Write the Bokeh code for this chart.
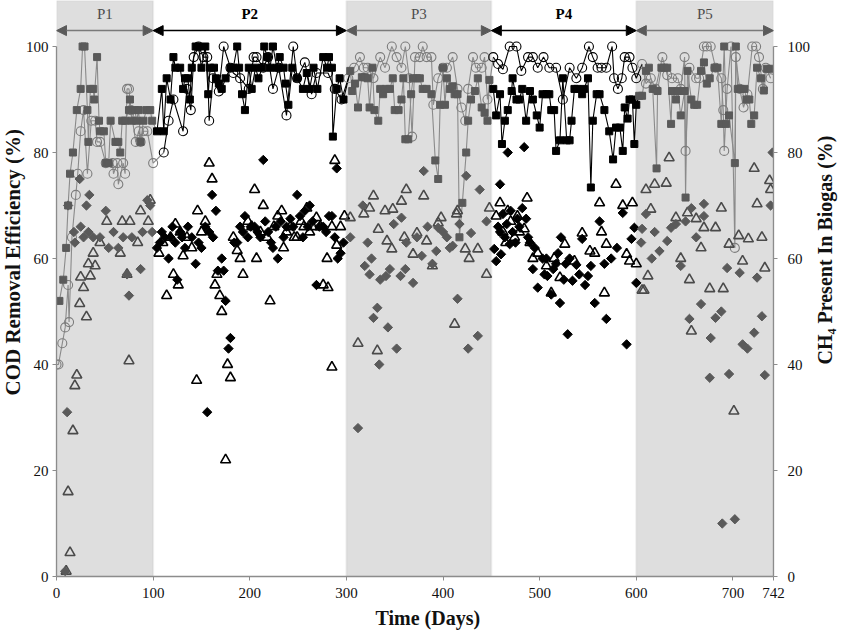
import math
from bokeh.plotting import figure
from bokeh.models import (Range1d, LinearAxis, FixedTicker, BoxAnnotation, Arrow,
                          NormalHead, Label, Title)
from bokeh.embed import file_html
from bokeh.resources import INLINE

# ---------------- data ----------------
period_names = ["P1", "P2", "P3", "P4", "P5"]
period_bounds = [0, 100, 300, 450, 600, 742]
x_ticks = [0, 100, 200, 300, 400, 500, 600, 700, 742]
y_ticks = [0, 20, 40, 60, 80, 100]

# COD removal, filled squares
sq_day = [3, 7, 10, 12, 14, 17, 21, 25, 27, 29, 32, 33, 35, 38, 39, 42, 44, 45, 49, 51, 54, 56, 61, 64, 66, 68, 71, 75, 76, 78, 81, 83, 85, 87, 90, 93, 97, 99,
          104, 109, 111, 114, 118, 121, 123, 128, 131, 133, 136, 138, 140, 144, 147, 150, 154, 157, 159, 163, 165, 168, 171, 175, 180, 183, 187, 189, 192, 195, 199, 202, 206, 209, 213, 215, 218, 221, 224, 228, 231, 235, 237, 240, 244, 249, 255, 259, 262, 266, 270, 276, 280, 282, 285, 286, 290, 293, 297,
          304, 306, 309, 312, 316, 319, 322, 324, 327, 329, 333, 335, 338, 341, 345, 348, 350, 354, 357, 359, 361, 364, 367, 369, 373, 376, 379, 383, 388, 392, 395, 397, 400, 402, 404, 407, 410, 412, 415, 417, 420, 424, 426, 429, 433, 436, 440, 443, 446, 448,
          452, 455, 459, 461, 464, 467, 471, 472, 476, 479, 482, 486, 490, 493, 497, 500, 503, 507, 510, 512, 515, 517, 521, 524, 528, 531, 533, 536, 539, 544, 546, 550, 553, 555, 559, 562, 567, 572, 576, 579, 583, 586, 588, 591, 593, 596, 598, 600,
          603, 606, 610, 613, 617, 621, 622, 626, 629, 632, 636, 637, 641, 643, 646, 650, 651, 653, 657, 660, 663, 667, 670, 673, 676, 681, 684, 688, 691, 693, 696, 702, 703, 705, 708, 712, 714, 717, 719, 722, 725, 729, 732, 735, 739]
sq_cod = [52, 56, 62, 70, 76, 80, 88, 92, 100, 100, 88, 82, 92, 92, 90, 98, 86, 84, 84, 78, 78, 86, 82, 82, 80, 86, 86, 88, 90, 86, 88, 86, 88, 82, 86, 88, 88, 86,
          84, 92, 84, 94, 90, 98, 96, 96, 92, 94, 94, 90, 96, 100, 100, 96, 100, 91, 96, 96, 94, 93, 92, 94, 96, 96, 100, 96, 91, 88, 96, 92, 96, 94, 96, 100, 98, 96, 100, 96, 98, 96, 93, 89, 96, 94, 92, 95, 92, 96, 92, 98, 96, 98, 96, 83, 92, 94, 90,
          95.4, 91.6, 93, 88.5, 94.2, 94.2, 94, 88.5, 96, 88, 86, 92, 91, 92, 92, 94, 88, 88, 90, 94, 82.5, 82.5, 91, 94, 94, 94, 92, 92, 91, 78.5, 75, 89, 96, 89, 94, 92, 92.5, 91, 91, 64, 70.5, 80, 86, 90, 91.6, 94, 88.5, 87.5, 86, 93.7,
          92, 87, 91, 81.6, 86, 88, 91.6, 94, 90, 90, 92, 86, 91.6, 90, 87, 84.7, 91, 91, 91, 88, 88, 80.3, 82.3, 94, 82.3, 82.3, 86, 92, 92, 91, 92, 94, 73.4, 86, 91, 91, 88, 84, 78.7, 84.7, 84.7, 80.3, 88.5, 86.4, 90, 90, 81.6, 89,
          90.7, 90.7, 95.4, 96, 92, 77, 91.6, 96, 96, 96, 85.4, 91.6, 90, 91.6, 87, 91.6, 71.5, 95.4, 90, 89, 89, 95.4, 97, 93, 94, 96, 96, 85.4, 100, 85.4, 87, 78, 100, 92, 92, 92, 90, 90, 85.4, 87, 96, 94, 91.7, 95.8, 95.8]

# COD removal, open circles
ci_day = [0, 2, 6, 9, 12, 13, 16, 20, 22, 25, 28, 32, 36, 40, 42, 45, 51, 58, 59, 63, 64, 69, 71, 73, 75, 77, 82, 85, 87, 90, 94, 100,
          111, 116, 121, 131, 135, 139, 142, 147, 152, 156, 158, 162, 168, 173, 180, 183, 190, 199, 204, 207, 214, 219, 224, 230, 238, 245, 249, 257, 264, 269, 281, 288, 295,
          302, 308, 314, 318, 322, 328, 335, 340, 347, 352, 357, 361, 365, 368, 371, 376, 379, 383, 388, 390, 395, 400, 404, 410, 415, 419, 423, 426, 431, 434, 440, 443, 446,
          452, 457, 462, 469, 476, 481, 488, 493, 498, 504, 510, 517, 524, 531, 538, 544, 551, 555, 560, 564, 569, 575, 577, 581, 585, 588, 593, 596, 600,
          606, 610, 615, 620, 627, 632, 637, 643, 646, 650, 651, 655, 662, 665, 670, 673, 677, 682, 688, 690, 691, 694, 698, 702, 703, 707, 711, 715, 720, 724, 727, 731, 734, 739]
ci_cod = [40, 40, 44, 47, 55, 48, 64, 72, 76, 84, 88, 76, 86, 86, 82, 82, 78, 78, 76, 78, 74, 78, 76, 92, 92, 88, 82, 84, 82, 84, 84, 78,
          80, 86, 90, 84, 92, 88, 98, 100, 98, 98, 86, 94, 91.5, 100, 96, 95, 94, 92, 98, 98, 96, 98, 92, 96, 87, 100, 94, 97, 91, 95, 95, 92, 90,
          94, 96, 98, 96, 96, 94, 98, 96, 100, 98, 96, 100, 94, 83, 98, 98, 100, 98, 98, 89, 94, 96, 96, 98, 92, 88.5, 86, 92, 98, 96, 96, 98, 90,
          98, 96.7, 95.7, 100, 100, 95.4, 98, 98, 96, 98, 96, 96, 90, 96, 94, 96, 100, 98, 96, 96, 96, 100, 94, 92, 94, 98, 98, 96, 94,
          96.7, 93, 94, 92, 98, 94.6, 94, 94, 92, 98, 80.3, 96, 94, 94, 100, 100, 100, 96, 94, 88, 80.3, 92, 100, 62, 98, 92, 88.5, 91, 100, 100, 98, 92, 96, 94]

# CH4 in biogas, filled diamonds
di_day = [9, 11, 12, 18, 19, 24, 25, 28, 31, 33, 34, 38, 45, 51, 54, 59, 64, 69, 73, 75, 78, 87, 89, 94, 97, 99,
          104, 107, 109, 112, 116, 118, 120, 123, 125, 128, 130, 133, 136, 140, 144, 147, 150, 154, 156, 158, 161, 162, 165, 167, 171, 173, 175, 178, 180, 184, 187, 190, 193, 195, 198, 201, 205, 208, 211, 214, 216, 219, 222, 224, 227, 229, 232, 235, 238, 242, 245, 249, 252, 255, 257, 260, 262, 265, 269, 272, 276, 279, 282, 285, 288, 290, 291, 294, 297,
          304, 312, 317, 319, 322, 324, 326, 328, 332, 334, 335, 341, 343, 345, 349, 352, 356, 357, 361, 362, 369, 373, 378, 380, 384, 389, 393, 395, 400, 404, 407, 410, 415, 417, 424, 426, 429, 436, 438, 445,
          453, 455, 457, 459, 459, 460, 462, 464, 466, 467, 469, 470, 472, 475, 477, 479, 482, 484, 486, 488, 490, 493, 495, 498, 503, 505, 507, 508, 512, 514, 517, 519, 521, 522, 525, 527, 529, 531, 534, 538, 541, 544, 547, 550, 553, 557, 562, 567, 569, 574, 580, 586, 590, 595, 598, 600,
          605, 606, 610, 616, 619, 624, 632, 636, 641, 646, 651, 655, 657, 662, 667, 670, 670, 676, 677, 682, 688, 689, 694, 696, 702, 707, 710, 715, 722, 725, 730, 733, 739, 741]
di_ch4 = [1, 31, 70, 65, 63, 75, 66, 64, 70, 65, 72, 64, 64, 69, 62, 65, 62, 64, 57, 53, 64, 58, 65, 71, 70, 65,
          62, 63, 65, 64, 60, 64, 66, 63, 56, 65, 64, 62, 66, 64, 59, 63, 62, 66, 31, 65, 72, 64, 69, 57.7, 60, 57.7, 52, 43, 45, 63, 63, 66, 65, 68, 64, 66, 66, 65, 64, 78.6, 67, 65, 63, 62, 66, 60, 67, 64, 66, 67.5, 66, 72, 68, 64, 69, 66, 70, 67, 55, 66, 66, 65, 68, 68, 64, 77, 60, 61, 63,
          64, 28, 70, 58.6, 63, 57, 60, 48.8, 50.7, 40, 56, 56.7, 47, 58, 66.5, 43, 56.7, 67.7, 58, 63, 55.4, 64, 60.5, 76.5, 66, 59, 61.4, 65.8, 65, 64, 62, 62.4, 52.4, 66.5, 75.6, 43, 64.8, 45.4, 73, 67,
          61.8, 59.5, 66, 74, 65, 60.8, 68.4, 64, 66.5, 80, 62.7, 69, 65, 63, 67.5, 66, 69.5, 81, 67.5, 64, 63, 58, 62, 54.5, 60, 57, 60, 56.7, 53.2, 58, 59, 61, 51.6, 64, 56, 59, 45.7, 60, 55.8, 58.8, 57, 63.7, 55, 56.7, 58.6, 51.6, 67, 59, 48.6, 60, 62, 68.6, 43.8, 63.7, 65.8, 55.4,
          63, 65.6, 68.4, 60, 65, 61.4, 63.3, 65.8, 66.5, 58.6, 67, 48.6, 69.5, 64, 51.4, 70.3, 68, 37.5, 45, 48.8, 50, 10, 58.2, 38.2, 10.8, 57.3, 43.8, 43, 46, 56.4, 49.1, 38, 70, 80]

# CH4 in biogas, open triangles
tr_day = [10, 12, 14, 17, 19, 21, 24, 25, 28, 31, 33, 35, 38, 40, 45, 52, 66, 68, 73, 75, 76, 84, 87, 95, 97,
          106, 110, 114, 118, 121, 123, 126, 128, 131, 135, 140, 145, 146, 150, 154, 158, 161, 164, 166, 169, 171, 175, 177, 180, 183, 187, 190, 193, 198, 202, 205, 207, 211, 214, 218, 221, 225, 229, 233, 235, 238, 242, 246, 249, 253, 256, 259, 262, 265, 269, 273, 276, 280, 281, 285, 285, 288, 290, 294, 298,
          304, 312, 318, 324, 328, 332, 333, 340, 342, 347, 348, 357, 360, 362, 369, 373, 380, 383, 389, 395, 398, 412, 414, 415, 423, 427, 436, 445, 448,
          455, 459, 462, 465, 467, 470, 474, 477, 479, 484, 487, 490, 493, 498, 507, 512, 515, 521, 526, 536, 544, 552, 557, 562, 564, 567, 569, 579, 586, 590, 593, 596, 600,
          606, 608, 610, 612, 615, 619, 631, 634, 641, 646, 653, 655, 657, 662, 667, 670, 676, 682, 688, 690, 696, 701, 706, 710, 716, 722, 725, 730, 733, 738, 739]
tr_ch4 = [1, 16, 4.5, 27.5, 36, 38, 51.5, 56.5, 54.5, 49, 59, 56.7, 61, 58.6, 63, 67, 61, 67, 57, 40.7, 67, 63, 69, 67, 71,
          61, 63, 53, 64, 57, 66.5, 55, 65, 60.5, 64, 62, 37, 69, 65, 67, 78, 75, 55, 57, 53, 50, 22, 40, 37.5, 64, 61.5, 60, 57, 67, 66, 73, 60, 65, 70, 64, 52, 66, 68, 69, 62, 65, 66, 64, 64, 67, 66, 69.5, 65, 66, 67.7, 66, 55, 60, 54.5, 39.5, 66, 78.5, 62.5, 66, 68,
          67.7, 44, 68.4, 69.5, 71.8, 42.6, 65.5, 69, 63.3, 61.8, 69.3, 70.8, 64, 73, 60.8, 64.8, 71.8, 63.3, 58.6, 66.7, 67.7, 47.6, 68.4, 69, 61.8, 60, 61.8, 57, 69.5,
          68, 70.5, 65, 63, 69, 67, 64, 68, 65, 65.6, 71.4, 63, 60, 61, 58.6, 53.5, 60, 56.4, 62.7, 59.5, 64.8, 61.4, 61, 70.5, 65, 53.5, 62.7, 74, 70, 60.8, 59.5, 70.5, 59,
          54, 54, 73, 56.7, 69.3, 74, 74.2, 79, 67.7, 60, 68.6, 56, 46.3, 67.5, 62, 65.8, 54.3, 65.8, 69.5, 54.3, 62.7, 31.2, 64.3, 59.5, 63.7, 77, 70.3, 64, 58.2, 74.7, 73]

# ---------------- helpers ----------------
def period_index(d):
    for i in range(len(period_names)):
        if d <= period_bounds[i + 1]:
            return i
    return len(period_names) - 1

def split(days, vals):
    groups = [([], []) for _ in period_names]
    for d, v in zip(days, vals):
        g = groups[period_index(d)]
        g[0].append(d)
        g[1].append(v)
    return groups

GRAY_MARK = "#5a5a5a"
GRAY_LINE = "#8a8a8a"
GRAY_CIRC = "#7c7c7c"
GRAY_TRI = "#4a4a4a"
BLACK = "#000000"
FONT = "Liberation Serif"

def is_shaded(i):
    return i % 2 == 0

# ---------------- figure ----------------
Y_TOP = 108.68
p = figure(width=850, height=638, output_backend="svg", toolbar_location=None,
           x_range=Range1d(0, 742), y_range=Range1d(0, Y_TOP),
           min_border_left=56, min_border_right=76, min_border_top=0, min_border_bottom=62,
           y_axis_location=None, x_axis_location=None)
p.outline_line_color = None
p.grid.visible = False
p.background_fill_color = "white"
p.extra_y_ranges = {"ch4": Range1d(0, Y_TOP)}

def style_axis(ax):
    ax.axis_line_color = "#8c8c8c"
    ax.axis_line_width = 1.3
    ax.major_tick_line_color = "#8c8c8c"
    ax.major_tick_in = 0
    ax.major_tick_out = 4
    ax.minor_tick_line_color = None
    ax.major_label_text_font = FONT
    ax.major_label_text_font_size = "15px"
    ax.major_label_text_color = "#111111"
    ax.major_label_standoff = 7

xax = LinearAxis(ticker=FixedTicker(ticks=x_ticks))
style_axis(xax)
p.add_layout(xax, "below")

lax = LinearAxis(ticker=FixedTicker(ticks=y_ticks), bounds=(0, 100))
style_axis(lax)
lax.major_label_standoff = 4
p.add_layout(lax, "left")

rax = LinearAxis(ticker=FixedTicker(ticks=y_ticks), bounds=(0, 100), y_range_name="ch4")
style_axis(rax)
rax.major_label_standoff = 10
p.add_layout(rax, "right")

# axis titles
title_kw = dict(text_font=FONT, text_font_style="bold", text_color="#111111", align="left")
p.add_layout(Title(text="COD Removal Efficiency (%)", standoff=-4, offset=181,
                   text_font_size="21px", **title_kw), "left")
p.add_layout(Title(text="Time (Days)", standoff=9, offset=319,
                   text_font_size="20px", **title_kw), "below")

# right title: a label-only axis whose single tick carries the title text
R_TITLE_START = 40
r_title = LinearAxis(ticker=FixedTicker(ticks=[R_TITLE_START]), y_range_name="ch4",
                     major_label_overrides={R_TITLE_START: "CH\u2084 Present In Biogas (%)"},
                     major_label_orientation=math.pi / 2)
r_title.axis_line_color = None
r_title.major_tick_out = 0
r_title.major_tick_in = 0
r_title.minor_tick_line_color = None
r_title.major_label_standoff = 12
r_title.major_label_text_font = FONT
r_title.major_label_text_font_size = "20px"
r_title.major_label_text_font_style = "bold"
r_title.major_label_text_color = "#111111"
p.add_layout(r_title, "right")

# shaded periods
for i in range(len(period_names)):
    if is_shaded(i):
        p.add_layout(BoxAnnotation(left=period_bounds[i], right=period_bounds[i + 1],
                                   fill_color="#dedede", fill_alpha=1.0,
                                   line_color="#cacaca", line_width=2, level="underlay"))

# period arrows and labels
for i, name in enumerate(period_names):
    col = GRAY_MARK if is_shaded(i) else BLACK
    head_kw = dict(size=10, fill_color=col, line_color=col)
    p.add_layout(Arrow(x_start=period_bounds[i], x_end=period_bounds[i + 1],
                       y_start=103, y_end=103,
                       start=NormalHead(**head_kw), end=NormalHead(**head_kw),
                       line_color=("#7a7a7a" if is_shaded(i) else BLACK), line_width=1.5))
    p.add_layout(Label(x=(period_bounds[i] + period_bounds[i + 1]) / 2, y=106.2, text=name,
                       text_align="center", text_baseline="middle",
                       text_font=FONT, text_font_size="15px",
                       text_font_style=("normal" if is_shaded(i) else "bold"),
                       text_color=("#4d4d4d" if is_shaded(i) else BLACK)))

# lines (connected series)
def draw_lines(days, vals):
    groups = split(days, vals)
    for i, (d, v) in enumerate(groups):
        xs, ys = list(d), list(v)
        if i + 1 < len(groups) and groups[i + 1][0]:
            xs.append(groups[i + 1][0][0])
            ys.append(groups[i + 1][1][0])
        if xs:
            p.line(xs, ys, line_color=(GRAY_LINE if is_shaded(i) else BLACK), line_width=1.1)

draw_lines(ci_day, ci_cod)
draw_lines(sq_day, sq_cod)

for i, (d, v) in enumerate(split(ci_day, ci_cod)):
    p.scatter(d, v, marker="circle", size=9, fill_color=None,
              line_color=(GRAY_CIRC if is_shaded(i) else BLACK), line_width=1.1)

for i, (d, v) in enumerate(split(sq_day, sq_cod)):
    c = GRAY_MARK if is_shaded(i) else BLACK
    p.scatter(d, v, marker="square", size=7, fill_color=c, line_color=c)

for i, (d, v) in enumerate(split(tr_day, tr_ch4)):
    p.scatter(d, v, marker="triangle", size=10, fill_color=None, y_range_name="ch4",
              line_color=(GRAY_TRI if is_shaded(i) else BLACK), line_width=1.6)

for i, (d, v) in enumerate(split(di_day, di_ch4)):
    c = GRAY_MARK if is_shaded(i) else BLACK
    p.scatter(d, v, marker="square", angle=math.pi / 4, size=6.6, fill_color=c, line_color=c,
              y_range_name="ch4")

open("out.html", "w").write(file_html(p, INLINE))
